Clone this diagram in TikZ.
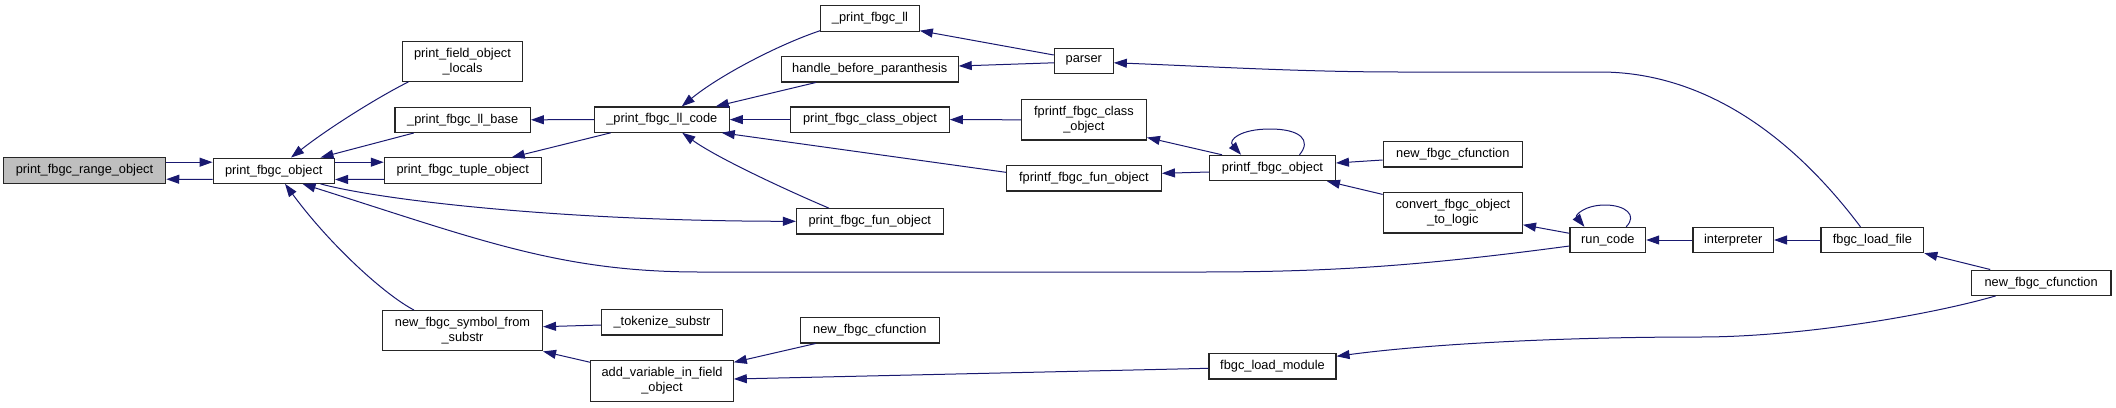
\documentclass[tikz,border=0pt]{standalone}
\usepackage{fontspec}
\newfontfamily\boxfnt{Liberation Sans}
\usetikzlibrary{arrows.meta}
\definecolor{navy}{HTML}{191970}
\definecolor{greyfill}{HTML}{BFBFBF}
\tikzset{
  box/.style={draw=black!85, line width=1.1pt, fill=white, inner sep=0pt, align=center,
    minimum height=25.3pt, font={\boxfnt\fontsize{12.8}{15}\selectfont}},
  box2/.style={box, minimum height=40.3pt},
  edge/.style={draw=navy, line width=1pt, -{Triangle[length=13pt,width=9pt]}}
}
\begin{document}
\begin{tikzpicture}[x=1pt,y=-1pt]
\useasboundingbox (0,0) rectangle (2116,407);
\node[box, minimum width=162.4pt, fill=greyfill] (range) at (84.5,170.5) {print\_fbgc\_range\_object};
\node[box, minimum width=121.4pt] (pfo) at (273.8,170.7) {print\_fbgc\_object};
\node[box2, minimum width=120pt] (locals) at (462.5,61.2) {print\_field\_object\\\_locals};
\node[box, minimum width=135.4pt] (llbase) at (462.7,119.8) {\_print\_fbgc\_ll\_base};
\node[box, minimum width=156.8pt] (tuple) at (462.7,170.5) {print\_fbgc\_tuple\_object};
\node[box2, minimum width=160pt] (symbol) at (462.5,330.7) {new\_fbgc\_symbol\_from\\\_substr};
\node[box, minimum width=98.6pt] (ll) at (870,18.5) {\_print\_fbgc\_ll};
\node[box, minimum width=176.8pt] (hbp) at (869.8,69.3) {handle\_before\_paranthesis};
\node[box, minimum width=135pt] (llcode) at (661.8,119.6) {\_print\_fbgc\_ll\_code};
\node[box, minimum width=158.6pt] (classobj) at (870,119.6) {print\_fbgc\_class\_object};
\node[box, minimum width=59pt] (parser) at (1083.8,60.8) {parser};
\node[box2, minimum width=125pt] (fclass) at (1083.9,119.8) {fprintf\_fbgc\_class\\\_object};
\node[box, minimum width=155pt] (ffun) at (1083.9,178.3) {fprintf\_fbgc\_fun\_object};
\node[box, minimum width=146.8pt] (funobj) at (869.8,221.3) {print\_fbgc\_fun\_object};
\node[box, minimum width=121.1pt] (tokenize) at (662,322.3) {\_tokenize\_substr};
\node[box, minimum width=139.3pt] (cfmid) at (869.8,330.3) {new\_fbgc\_cfunction};
\node[box2, minimum width=142.5pt] (addvar) at (662,381) {add\_variable\_in\_field\\\_object};
\node[box, minimum width=125.8pt] (printf) at (1272.5,168) {printf\_fbgc\_object};
\node[box, minimum width=139.3pt] (cfup) at (1452.8,154.3) {new\_fbgc\_cfunction};
\node[box2, minimum width=139.3pt] (convert) at (1452.8,212.8) {convert\_fbgc\_object\\\_to\_logic};
\node[box, minimum width=75.7pt] (runcode) at (1607.8,240) {run\_code};
\node[box, minimum width=127pt] (loadmod) at (1272.5,366.3) {fbgc\_load\_module};
\node[box, minimum width=80.5pt] (interp) at (1733.2,240) {interpreter};
\node[box, minimum width=102.8pt] (loadfile) at (1872.4,240) {fbgc\_load\_file};
\node[box, minimum width=139.7pt] (cfright) at (2041.1,282.7) {new\_fbgc\_cfunction};

\draw[edge] ([yshift=-8.7pt]pfo.west) -- ([yshift=-8.7pt]range.east);
\draw[edge] ([yshift=8.3pt]range.east) -- ([yshift=8.5pt]pfo.west);
\draw[edge] ([yshift=8.5pt]pfo.east) -- ([yshift=8.3pt]tuple.west);
\draw[edge] ([yshift=-8.8pt]tuple.west) -- ([yshift=-8.8pt]pfo.east);
\draw[edge] ([xshift=6.5pt]locals.south west) .. controls (380,96) and (330,127) .. ([xshift=78.5pt]pfo.north west);
\draw[edge] ([xshift=19.3pt]llbase.south west) -- ([xshift=108pt]pfo.north west);
\draw[edge] ([xshift=108pt]pfo.south west) .. controls (380,200) and (560,221) .. (funobj.west);
\draw[edge] ([yshift=-6pt]runcode.west) .. controls (1420,266) and (1330,272) .. (1200,272) -- (700,272) .. controls (560,272) and (480,240) .. ([xshift=90pt]pfo.south west);
\draw[edge] ([xshift=32pt]symbol.north west) .. controls (385,295) and (330,245) .. ([xshift=72.5pt]pfo.south west);
\draw[edge] (llcode.west) -- (llbase.east);
\draw[edge] ([xshift=17pt]llcode.south west) -- ([xshift=128pt]tuple.north west);
\draw[edge] ([yshift=1pt]ll.south west) .. controls (780,44) and (720,75) .. ([xshift=88pt]llcode.north west);
\draw[edge] ([xshift=35pt]hbp.south west) -- ([xshift=122pt]llcode.north west);
\draw[edge] (classobj.west) -- (llcode.east);
\draw[edge] ([yshift=6pt]ffun.west) -- ([xshift=128pt]llcode.south west);
\draw[edge] ([xshift=33pt]funobj.north west) .. controls (800,196) and (720,160) .. ([xshift=88.5pt]llcode.south west);
\draw[edge] ([yshift=5.8pt]parser.west) -- ([yshift=1pt]ll.south east);
\draw[edge] ([yshift=-2pt]parser.west) -- ([yshift=3.3pt]hbp.east);
\draw[edge] ([xshift=40pt]loadfile.north west) .. controls (1780,120) and (1690,72) .. (1600,72) -- (1400,72) .. controls (1300,72) and (1200,66) .. ([yshift=-2pt]parser.east);
\draw[edge] (fclass.west) -- (classobj.east);
\draw[edge] ([xshift=13pt]printf.north west) -- ([yshift=3pt]fclass.south east);
\draw[edge] ([yshift=-4pt]printf.west) -- ([yshift=5pt]ffun.east);
\draw[edge] ([xshift=90.4pt]printf.north west) .. controls (1312,140) and (1300,129) .. (1270,129) .. controls (1240,129) and (1228,140) .. ([xshift=32pt]printf.north west);
\draw[edge] ([yshift=-5.7pt]cfup.west) -- ([yshift=5pt]printf.east);
\draw[edge] ([yshift=-2.3pt]convert.north west) -- ([xshift=-9pt]printf.south east);
\draw[edge] ([yshift=6.7pt]runcode.west) -- ([yshift=-12pt]convert.east);
\draw[edge] ([xshift=56.7pt]runcode.north west) .. controls (1638,215) and (1625,205) .. (1605,205) .. controls (1585,205) and (1575,215) .. ([xshift=15pt]runcode.north west);
\draw[edge] (interp.west) -- (runcode.east);
\draw[edge] (loadfile.west) -- (interp.east);
\draw[edge] ([xshift=19.5pt]cfright.north west) -- (loadfile.south east);
\draw[edge] ([xshift=25pt]cfright.south west) .. controls (1930,315) and (1800,337) .. (1700,337) .. controls (1550,337) and (1420,345) .. ([yshift=10pt]loadmod.east);
\draw[edge] ([yshift=-2pt]loadmod.west) -- ([yshift=2pt]addvar.east);
\draw[edge] ([xshift=16pt]cfmid.south west) -- ([yshift=-2pt]addvar.north east);
\draw[edge] ([yshift=-2.7pt]tokenize.west) -- ([yshift=4pt]symbol.east);
\draw[edge] ([yshift=-2pt]addvar.north west) -- (symbol.south east);
\end{tikzpicture}
\end{document}
